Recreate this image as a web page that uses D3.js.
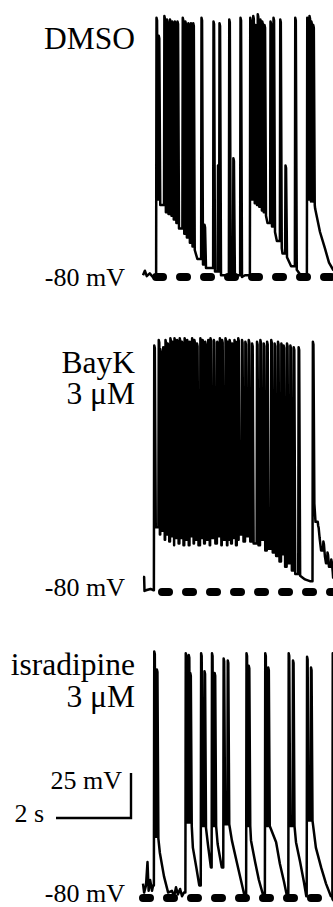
<!DOCTYPE html>
<html lang="en">
<head>
  <meta charset="UTF-8">
  <title>Membrane potential traces</title>
  <style>
    body { margin: 0; background: #fff; }
    svg { display: block; }
    text { font-family: "Liberation Serif", "Times New Roman", serif; fill: #000; }
  </style>
</head>
<body>
  <svg width="333" height="907"></svg>
  <script src="https://d3js.org/d3.v7.min.js"></script>
  <script>
    // ---- data: times in s, voltages in mV ----
    // DMSO
    const dmsoSlow = [[0, -79], [0.05, -76.5], [0.1, -79.5], [0.18, -78], [0.26, -80], [0.33, -79.5],
      [1.45, -70], [2.72, -79], [3.32, -50], [3.57, -60], [3.72, -67], [3.95, -74], [4.24, -80], [4.33, -79.5],
      [4.59, -42], [4.72, -55], [4.85, -64], [4.96, -72], [5.07, -76], [5.2, -78]];
    const dmsoSpikeTimes = [0.35, 0.41, 0.56, 0.63, 0.71, 0.77, 0.84, 0.91, 1.05, 1.12, 1.20, 1.27, 1.33,
      1.55, 1.63, 1.87, 1.99, 2.03, 2.29, 2.40, 2.59,
      2.85, 2.93, 2.99, 3.05, 3.12, 3.17, 3.23, 3.39, 3.47, 3.65, 3.79, 4.05,
      4.37, 4.43, 4.48, 4.53];
    const dmsoSpikePeaks = [64, 54, 65, 63, 63, 62, 62, 62, 64, 62, 61, 61, 61,
      64, -51, 62, -18, 61, 63, -14, 64,
      64, 65, 60, 66, 63, 62, 60, 62, 64, 63, -18, 64,
      64, 65, 62, 60];
    const dmsoSpikeTroughs = [-37, -40, -44, -45, -46, -48, -50, -53, -56, -58, -61, -63, -65,
      -73, -75, -77, -77, -79, -79, -79, -80,
      -37, -39, -40, -41, -43, -44, -46, -52, -55, -64, -69, -76,
      -37, -38, -38, -40];

    // BayK 3 µM
    const baykSlow = [[0, -71.7], [0.03, -71.7], [0.04, -79.4], [0.1, -78.9], [0.2, -78.3], [0.27, -79],
      [4.32, -73], [4.45, -74], [4.6, -41], [4.75, -57], [4.88, -64], [5.07, -72], [5.2, -73]];
    const baykSpikeTimes = [0.29, 0.41, 0.45, 0.53, 0.59, 0.65, 0.72, 0.78, 0.83, 0.90, 0.97, 1.03, 1.10,
      1.17, 1.24, 1.30, 1.36, 1.43, 1.52, 1.58, 1.65, 1.73, 1.79, 1.88, 1.97, 2.04, 2.10, 2.19, 2.25,
      2.30, 2.37, 2.43, 2.50, 2.53, 2.63, 2.72, 2.81, 2.90, 3.03, 3.12, 3.21, 3.30, 3.41, 3.50, 3.59,
      3.68, 3.74, 3.83, 3.92, 4.01, 4.14, 4.52, 4.66, 4.80, 4.91, 5.01];
    const baykSpikePeaks = [57, 60, 55, 56, 60, 58, 61, 59, 61, 60, 61, 59, 61,
      60, 59, 61, 60, 58, 61, 60, 59, 60, 61, 60, 59, 61, 60, 61, 59,
      60, 58, 60, 59, 61, 60, 59, 60, 58, 59, 60, 58, 59, 60, 58, 59,
      58, 57, 58, 57, 56, 56, 59, -43, -52, -58, -62];
    const baykSpikeTroughs = [-44, -48, -46, -51, -48, -52, -49, -54, -50, -53, -50, -54, -51,
      -54, -49, -53, -51, -54, -50, -53, -51, -54, -50, -53, -49, -54, -51, -54, -51,
      -53, -50, -54, -51, -48, -52, -49, -52, -53, -54, -51, -57, -56, -58, -60, -63,
      -59, -66, -64, -68, -70, -71, -31, -50, -60, -66, -69];

    // isradipine 3 µM
    const isrSlow = [[0, -72], [0.03, -77], [0.08, -73], [0.12, -60], [0.15, -76], [0.19, -70], [0.24, -76], [0.27, -73],
      [0.45, -55], [0.56, -68], [0.67, -77], [0.77, -76], [0.83, -79], [0.88, -74], [0.93, -78], [0.99, -75], [1.04, -79], [1.09, -77],
      [1.33, -52], [1.43, -64], [1.5, -73],
      [1.73, -50], [1.81, -63],
      [1.99, -50], [2.10, -63],
      [2.37, -48], [2.5, -60], [2.61, -70], [2.71, -79],
      [2.88, -48], [2.99, -60], [3.09, -70], [3.21, -79],
      [3.55, -49], [3.65, -61], [3.76, -71], [3.84, -79],
      [4.08, -49], [4.19, -60], [4.29, -71], [4.355, -79],
      [4.61, -52], [4.75, -63], [4.88, -72], [5.01, -79]];
    const isrSpikeTimes = [0.29, 0.36, 1.13, 1.21, 1.25, 1.54, 1.63, 1.83, 1.90, 2.14, 2.25,
      2.75, 2.81, 3.25, 3.33, 3.875, 3.99, 4.365, 4.47, 5.05];
    const isrSpikePeaks = [57, 47, 56, 55, 45, 56, 46, 56, 45, 53, 52,
      56, 49, 56, 48, 56, 52, 54, 48, 56];
    const isrSpikeTroughs = [-46, -47, -38, -38, -40, -40, -41, -40, -40, -39, -39,
      -40, -40, -40, -40, -40, -40, -37, -37, -40];

    const panelLabels = [["DMSO"], ["BayK", "3 μM"], ["isradipine", "3 μM"]];
    const restLabel = "-80 mV";
    const restPotential = -80;
    const scaleBar = { mV: 25, s: 2 };

    // ---- layout ----
    const svg = d3.select("svg");
    const x = d3.scaleLinear().domain([0, 5.2]).range([143, 338]);

    const panels = [
      { base: 277, slow: dmsoSlow, t: dmsoSpikeTimes, p: dmsoSpikePeaks, r: dmsoSpikeTroughs,
        labelY: [49], restY: 286, dashFrom: 0.347 },
      { base: 592, slow: baykSlow, t: baykSpikeTimes, p: baykSpikePeaks, r: baykSpikeTroughs,
        labelY: [373, 404], restY: 596, dashFrom: 0.507 },
      { base: 898, slow: isrSlow, t: isrSpikeTimes, p: isrSpikePeaks, r: isrSpikeTroughs,
        labelY: [675, 707], restY: 902, dashFrom: 0 }
    ];

    // merge slow points and spikes into one polyline
    function buildTrace(pn) {
      const ev = pn.slow.map(d => ({ t: d[0], v: d[1] }))
        .concat(pn.t.map((t, i) => ({ t: t, peak: pn.p[i], trough: pn.r[i] })))
        .sort((a, b) => a.t - b.t);
      const pts = [];
      let last = pn.slow[0][1];
      ev.forEach(e => {
        if (e.peak === undefined) {
          pts.push([e.t, e.v]);
          last = e.v;
        } else {
          // upstroke, short flat top, downstroke
          pts.push([e.t, last], [e.t + 0.01, e.peak], [e.t + 0.025, e.peak - 1.5], [e.t + 0.05, e.trough]);
          last = e.trough;
        }
      });
      return pts;
    }

    let yLast;
    panels.forEach((pn, k) => {
      const y = d3.scaleLinear().domain([-80, 70]).range([pn.base, pn.base - 270]);
      yLast = y;
      const g = svg.append("g");

      // dashed -80 mV line
      g.append("line")
        .attr("x1", x(pn.dashFrom)).attr("x2", 340)
        .attr("y1", y(restPotential)).attr("y2", y(restPotential))
        .attr("stroke", "#000")
        .attr("stroke-width", 8)
        .attr("stroke-linecap", "round")
        .attr("stroke-dasharray", "7 17");

      const line = d3.line().x(d => x(d[0])).y(d => y(d[1]));
      g.append("path")
        .attr("d", line(buildTrace(pn)))
        .attr("fill", "none")
        .attr("stroke", "#000")
        .attr("stroke-width", 2.5)
        .attr("stroke-linejoin", "round");

      panelLabels[k].forEach((s, j) => {
        g.append("text")
          .attr("x", 135).attr("y", pn.labelY[j])
          .attr("text-anchor", "end")
          .style("font-size", "31.5px")
          .text(s);
      });

      g.append("text")
        .attr("x", 125).attr("y", pn.restY)
        .attr("text-anchor", "end")
        .style("font-size", "26px")
        .text(restLabel);
    });

    // scale bar, sized through the scales
    const cx = 131, cy = 818;
    const barW = x(scaleBar.s) - x(0);
    const barH = yLast(-80) - yLast(-80 + scaleBar.mV);
    svg.append("path")
      .attr("d", `M${cx - barW},${cy}H${cx}V${cy - barH}`)
      .attr("fill", "none")
      .attr("stroke", "#000")
      .attr("stroke-width", 2.4);
    svg.append("text")
      .attr("x", 122).attr("y", 789)
      .attr("text-anchor", "end")
      .style("font-size", "26px")
      .text(scaleBar.mV + " mV");
    svg.append("text")
      .attr("x", 44).attr("y", 822)
      .attr("text-anchor", "end")
      .style("font-size", "26px")
      .text(scaleBar.s + " s");
  </script>
</body>
</html>
